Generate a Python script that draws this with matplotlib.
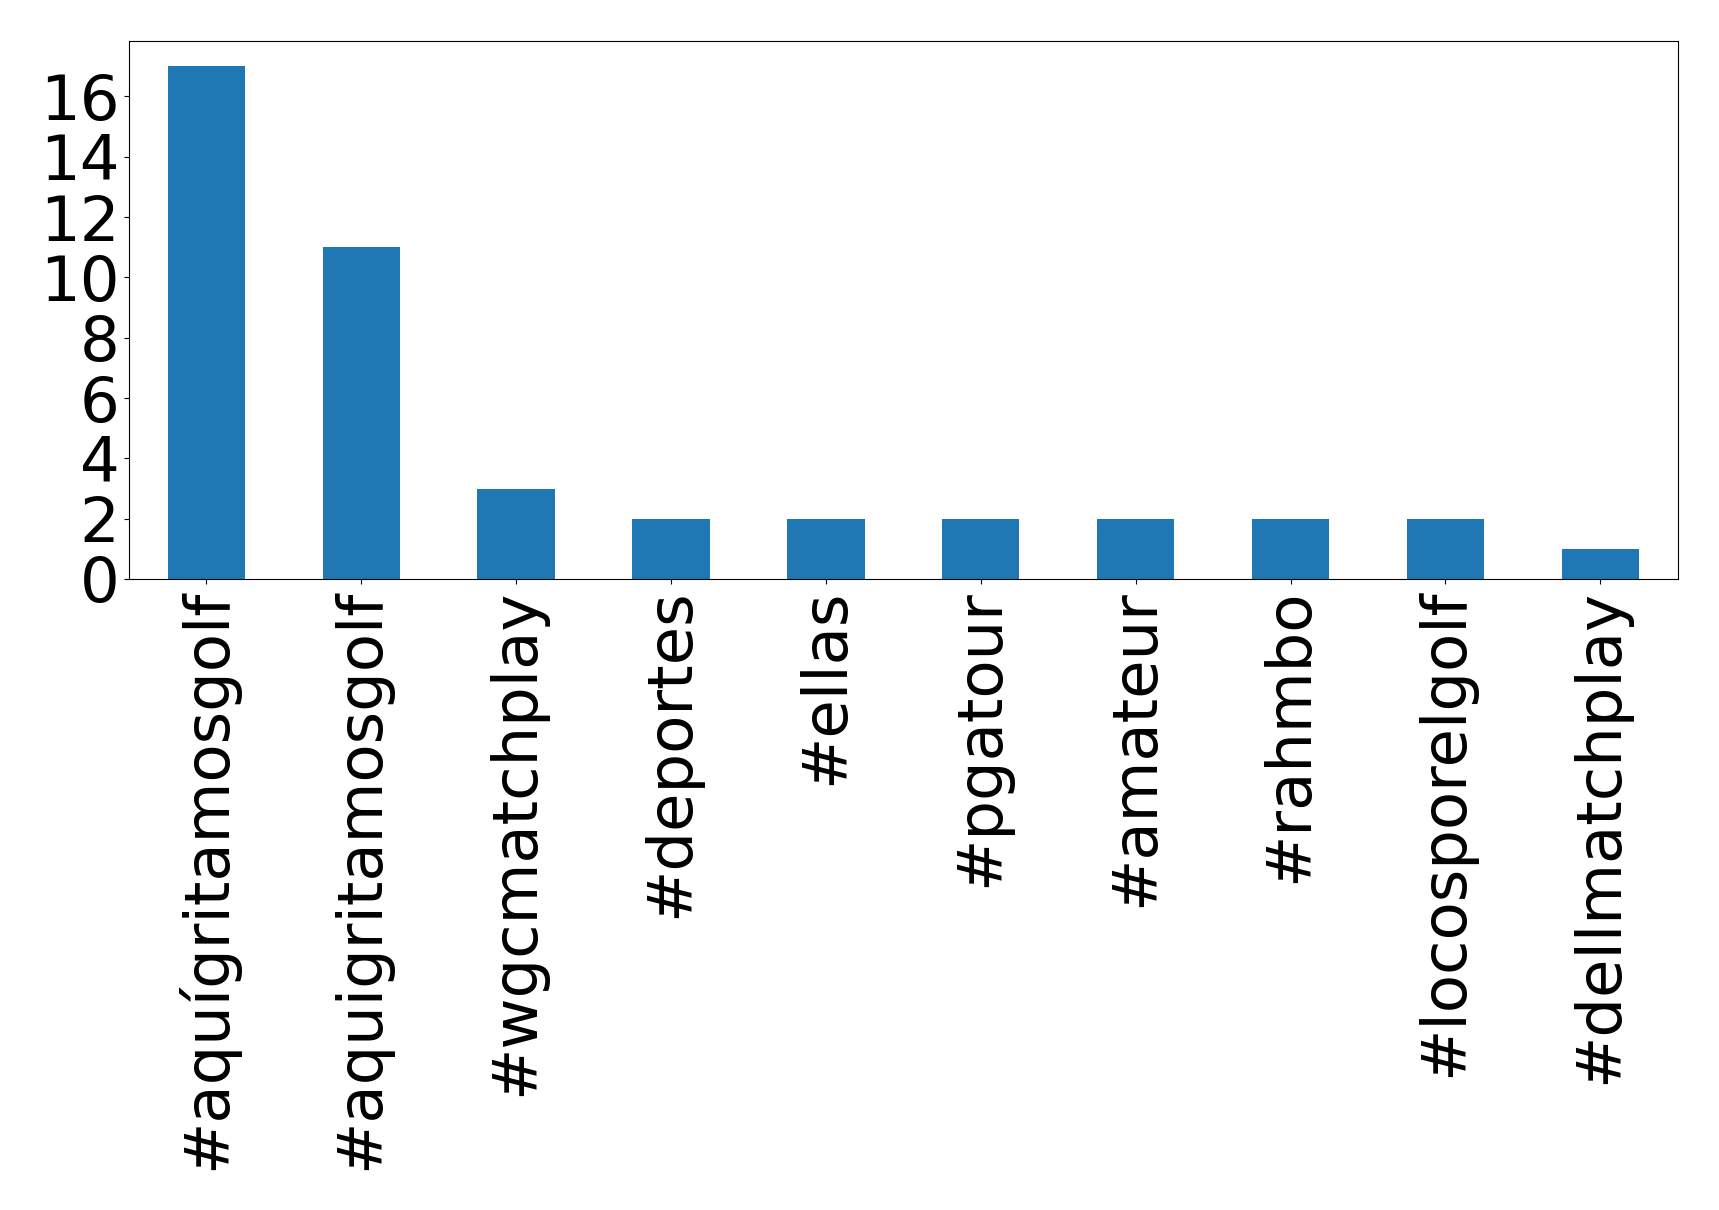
import matplotlib
matplotlib.use("Agg")
import matplotlib.pyplot as plt

hashtags = ["#aquígritamosgolf", "#aquigritamosgolf", "#wgcmatchplay", "#deportes",
            "#ellas", "#pgatour", "#amateur", "#rahmbo", "#locosporelgolf", "#dellmatchplay"]
counts = [17, 11, 3, 2, 2, 2, 2, 2, 2, 1]

fig = plt.figure(figsize=(17.19, 12.10), dpi=100)
ax = fig.add_axes([0.075, 0.5215, 0.901, 0.4449])

x = range(len(hashtags))
ax.bar(x, counts, width=0.5, color="#1f77b4")
ax.set_xlim(-0.5, len(hashtags) - 0.5)
ax.set_ylim(0, max(counts) * 1.05)
ax.set_xticks(list(x))
ax.set_xticklabels(hashtags, rotation=90, fontsize=45)
ax.set_yticks(range(0, 17, 2))
ax.tick_params(axis="y", labelsize=45)

fig.savefig("out.png", dpi=100)
